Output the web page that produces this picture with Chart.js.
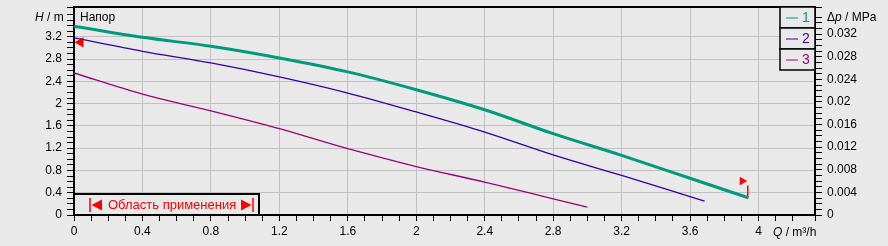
<!DOCTYPE html>
<html>
<head>
<meta charset="utf-8">
<script src="https://cdn.jsdelivr.net/npm/chart.js@4"></script>
<style>
  html, body { margin: 0; padding: 0; background: #e9e9e9; }
  canvas { display: block; }
</style>
</head>
<body>
<canvas id="pumpChart" width="888" height="246"></canvas>
<script>
// кривые напора (Q в m³/h, H в m)
var flow1 = [0, 0.4, 0.8, 1.2, 1.6, 2.0, 2.4, 2.8, 3.2, 3.6, 3.94];
var head1 = [3.39, 3.19, 3.03, 2.82, 2.57, 2.25, 1.89, 1.46, 1.07, 0.66, 0.31];
var flow2 = [0, 0.4, 0.8, 1.2, 1.6, 2.0, 2.4, 2.8, 3.2, 3.6, 3.685];
var head2 = [3.18, 2.94, 2.73, 2.48, 2.19, 1.85, 1.49, 1.08, 0.71, 0.33, 0.25];
var flow3 = [0, 0.4, 0.8, 1.2, 1.6, 2.0, 2.4, 2.8, 3.0];
var head3 = [2.55, 2.17, 1.87, 1.55, 1.19, 0.87, 0.59, 0.29, 0.14];

var curveNames = ['1', '2', '3'];
var colors = ['#00997f', '#3300aa', '#a0007a'];

// маркеры (левая граница, правая граница)
var leftMark = [{x: 0.038, y: 3.10}];
var rightFlag = [{x: 3.905, y: 0.61}];
var rightPole = [{x: 3.937, y: 0.30}, {x: 3.937, y: 0.53}];

var bg = '#e9e9e9';
var FONT = 'Arial, "Liberation Sans", sans-serif';

function pts(xs, ys) {
  return xs.map(function (x, i) { return {x: x, y: ys[i]}; });
}
function isMajor(v, step) {
  var r = v / step;
  return Math.abs(r - Math.round(r)) < 1e-6;
}
function fmt(v, d) {
  return String(parseFloat(v.toFixed(d)));
}
function noPad(s) {
  s.paddingTop = 0; s.paddingBottom = 0; s.paddingLeft = 0; s.paddingRight = 0;
}

var decorPlugin = {
  id: 'decor',
  beforeDraw: function (chart) {
    var c = chart.ctx;
    c.save();
    c.fillStyle = bg;
    c.fillRect(0, 0, chart.width, chart.height);
    c.restore();
  },
  afterDraw: function (chart) {
    var c = chart.ctx, a = chart.chartArea;
    c.save();
    // верхняя рамка
    c.strokeStyle = '#000';
    c.lineWidth = 2;
    c.beginPath();
    c.moveTo(a.left, a.top);
    c.lineTo(a.right, a.top);
    c.stroke();

    // легенда
    var lx = a.right - 35, rowH = 21;
    for (var i = 0; i < 3; i++) {
      var ty = a.top + i * rowH;
      c.fillStyle = bg;
      c.fillRect(lx, ty, 35, rowH);
      c.strokeStyle = '#000';
      c.lineWidth = 1.5;
      c.strokeRect(lx, ty, 35, rowH);
      c.strokeStyle = colors[i];
      c.lineWidth = 1;
      c.beginPath();
      c.moveTo(lx + 6, ty + rowH / 2 + 0.5);
      c.lineTo(lx + 18, ty + rowH / 2 + 0.5);
      c.stroke();
      c.fillStyle = colors[i];
      c.font = '14px ' + FONT;
      c.textBaseline = 'middle';
      c.textAlign = 'left';
      c.fillText(curveNames[i], lx + 22, ty + rowH / 2 + 1);
    }

    // область применения
    var bx = a.left, by = a.bottom - 21, cy = by + 11;
    c.fillStyle = bg;
    c.fillRect(bx, by, 185, 21);
    c.strokeStyle = '#000';
    c.lineWidth = 2;
    c.strokeRect(bx, by, 185, 21);
    c.fillStyle = '#ff0000';
    c.strokeStyle = '#ff0000';
    c.lineWidth = 1.5;
    c.beginPath();
    c.moveTo(bx + 16, cy - 7); c.lineTo(bx + 16, cy + 7);
    c.moveTo(bx + 179, cy - 7); c.lineTo(bx + 179, cy + 7);
    c.stroke();
    c.beginPath();
    c.moveTo(bx + 17.5, cy); c.lineTo(bx + 28, cy - 5.5); c.lineTo(bx + 28, cy + 5.5); c.closePath();
    c.moveTo(bx + 177.5, cy); c.lineTo(bx + 167, cy - 5.5); c.lineTo(bx + 167, cy + 5.5); c.closePath();
    c.fill();
    c.font = '13px ' + FONT;
    c.textAlign = 'left';
    c.textBaseline = 'middle';
    c.fillText('Область применения', bx + 34, cy);

    // подписи
    c.fillStyle = '#000';
    c.textBaseline = 'middle';
    c.textAlign = 'left';
    c.font = '12px ' + FONT;
    c.fillText('Напор', a.left + 6, 18);

    function parts(list, x, y) {
      list.forEach(function (p) {
        c.font = (p[1] ? 'italic ' : '') + '12px ' + FONT;
        c.fillText(p[0], x, y);
        x += c.measureText(p[0]).width;
      });
    }
    parts([['H', true], [' / m', false]], 35, 18);
    parts([['\u0394', false], ['p', true], [' / MPa', false]], 827, 18);
    parts([['Q', true], [' / m³/h', false]], 773, 233);
    c.restore();
  }
};

var ctx = document.getElementById('pumpChart').getContext('2d');
new Chart(ctx, {
  type: 'line',
  data: {
    datasets: [
      {label: '1', data: pts(flow1, head1), borderColor: colors[0], borderWidth: 3, cubicInterpolationMode: 'monotone', pointRadius: 0},
      {label: '2', data: pts(flow2, head2), borderColor: colors[1], borderWidth: 1.3, cubicInterpolationMode: 'monotone', pointRadius: 0},
      {label: '3', data: pts(flow3, head3), borderColor: colors[2], borderWidth: 1.3, cubicInterpolationMode: 'monotone', pointRadius: 0},
      {label: 'min', data: leftMark, showLine: false, pointStyle: 'triangle', rotation: -90, pointRadius: 6, backgroundColor: '#ff0000', borderColor: '#ff0000', borderWidth: 0},
      {label: 'max', data: rightFlag, showLine: false, pointStyle: 'triangle', rotation: 90, pointRadius: 5, backgroundColor: '#ff0000', borderColor: '#ff0000', borderWidth: 0},
      {label: 'pole', data: rightPole, borderColor: '#ff0000', borderWidth: 1.5, pointRadius: 0}
    ]
  },
  options: {
    responsive: false,
    animation: false,
    events: [],
    layout: {padding: {top: 7, left: 0, right: 0, bottom: 0}},
    plugins: {legend: {display: false}, tooltip: {enabled: false}},
    scales: {
      x: {
        type: 'linear', min: 0, max: 4.33,
        afterFit: function (s) { s.height = 31; noPad(s); },
        border: {display: true, color: '#000', width: 2},
        grid: {
          color: function (c) { return isMajor(c.tick.value, 0.4) ? '#c0c0c0' : 'rgba(0,0,0,0)'; },
          tickColor: '#000', tickLength: 6, lineWidth: 1
        },
        ticks: {
          stepSize: 0.1, autoSkip: false, maxRotation: 0, color: '#000', padding: 3,
          font: {size: 12, family: FONT},
          callback: function (v) { return isMajor(v, 0.4) ? fmt(v, 1) : ''; }
        }
      },
      y: {
        type: 'linear', position: 'left', min: 0, max: 3.735,
        afterFit: function (s) { s.width = 74; noPad(s); },
        border: {display: true, color: '#000', width: 2},
        grid: {
          color: function (c) { return (isMajor(c.tick.value, 0.4) && c.tick.value < 3.3) ? '#c0c0c0' : 'rgba(0,0,0,0)'; },
          tickColor: '#000', tickLength: 7, lineWidth: 1
        },
        ticks: {
          stepSize: 0.1, autoSkip: false, color: '#000', padding: 5,
          font: {size: 12, family: FONT},
          callback: function (v) { return (isMajor(v, 0.4) && v < 3.3) ? fmt(v, 1) : ''; }
        }
      },
      y1: {
        type: 'linear', position: 'right', min: 0, max: 0.0368,
        afterFit: function (s) { s.width = 73; noPad(s); },
        border: {display: true, color: '#000', width: 2},
        grid: {drawOnChartArea: false, tickColor: '#000', tickLength: 7},
        ticks: {
          stepSize: 0.001, autoSkip: false, color: '#000', padding: 5,
          font: {size: 12, family: FONT},
          callback: function (v) { return (isMajor(v, 0.004) && v < 0.034) ? fmt(v, 3) : ''; }
        }
      }
    }
  },
  plugins: [decorPlugin]
});
</script>
</body>
</html>
